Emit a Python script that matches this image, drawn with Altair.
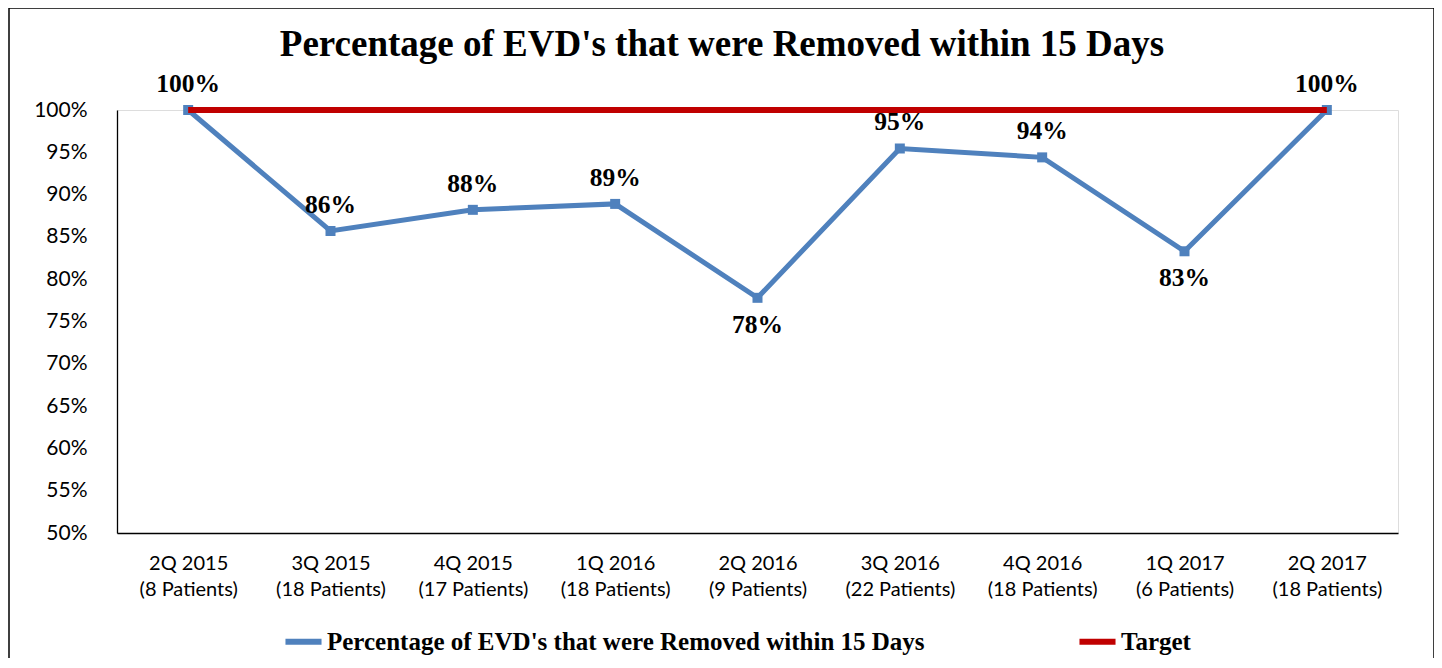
import altair as alt
import pandas as pd

quarters = ["2Q 2015", "3Q 2015", "4Q 2015", "1Q 2016", "2Q 2016",
            "3Q 2016", "4Q 2016", "1Q 2017", "2Q 2017"]
patients = [8, 18, 17, 18, 9, 22, 18, 6, 18]
pct_removed = [1.00, 0.857, 0.882, 0.889, 0.778, 0.9545, 0.944, 0.833, 1.00]
target = [1.00] * 9
label_side = ["above", "above", "above", "above", "below",
              "above", "above", "below", "above"]

TITLE = "Percentage of EVD's that were Removed within 15 Days"
SERIES = "Percentage of EVD's that were Removed within 15 Days"
TARGET = "Target"

cats = [f"{q}|({n} Patients)" for q, n in zip(quarters, patients)]
df = pd.DataFrame({"cat": cats, "value": pct_removed, "side": label_side,
                   "series": SERIES})
df_t = pd.DataFrame({"cat": cats, "value": target, "series": TARGET})

W, H = 1281, 423

x = alt.X("cat:N", sort=cats, title=None,
          scale=alt.Scale(type="point", padding=0.5),
          axis=alt.Axis(labelExpr="split(datum.label, '|')", labelAngle=0,
                        labelFont="Lato", labelFontSize=20, labelColor="#000",
                        labelPadding=20, labelLineHeight=26, ticks=False,
                        domainColor="#000", domainWidth=1.3))
y = alt.Y("value:Q", title=None,
          scale=alt.Scale(domain=[0.5, 1.0], nice=False, zero=False),
          axis=alt.Axis(values=[0.5 + 0.05 * i for i in range(11)], format=".0%",
                        labelFont="Lato", labelFontSize=21, labelColor="#000",
                        labelPadding=30, ticks=False, grid=False,
                        domainColor="#000", domainWidth=1.3))

color = alt.Color("series:N", title=None,
                  scale=alt.Scale(domain=[SERIES, TARGET], range=["#4F81BD", "#C00000"]),
                  legend=alt.Legend(orient="none", direction="horizontal",
                                    legendX=165, legendY=510,
                                    labelFont="Liberation Serif", labelFontWeight="bold",
                                    labelFontSize=25, labelColor="#000",
                                    symbolType="stroke", symbolStrokeWidth=6,
                                    symbolSize=1300, columnPadding=142,
                                    labelLimit=900, labelOffset=2))

border = alt.Chart(pd.DataFrame({"k": [0]})).mark_rect(
    fill=None, stroke="#000", strokeWidth=1.5, clip=False
).encode(x=alt.value(-108), x2=alt.value(W + 36), y=alt.value(-102), y2=alt.value(H + 140))

title = alt.Chart(pd.DataFrame({"t": [TITLE]})).mark_text(
    font="Liberation Serif", fontWeight="bold", fontSize=37, color="#000",
    baseline="middle", align="center"
).encode(text="t:N", x=alt.value(605), y=alt.value(-65))

line = alt.Chart(df).mark_line(strokeWidth=5).encode(x=x, y=y, stroke=color)
pts = alt.Chart(df).mark_square(size=100, opacity=1, color="#4F81BD").encode(x=x, y=y)
tline = alt.Chart(df_t).mark_line(strokeWidth=6).encode(x=x, y=y, stroke=color)

labels_up = alt.Chart(df).transform_filter("datum.side == 'above'").mark_text(
    font="Liberation Serif", fontWeight="bold", fontSize=25.5, color="#000",
    baseline="middle", dy=-26
).encode(x=x, y=y, text=alt.Text("value:Q", format=".0%"))
labels_dn = alt.Chart(df).transform_filter("datum.side == 'below'").mark_text(
    font="Liberation Serif", fontWeight="bold", fontSize=25.5, color="#000",
    baseline="middle", dy=27
).encode(x=x, y=y, text=alt.Text("value:Q", format=".0%"))

chart = alt.layer(border, title, line, pts, tline, labels_up, labels_dn).properties(
    width=W, height=H,
    autosize=alt.AutoSizeParams(type="none"),
    padding={"left": 109, "top": 102, "right": 36, "bottom": 125},
).configure_view(stroke=None).configure(background="white")

chart.save("out.html", embed_options={"renderer": "svg", "actions": False})
